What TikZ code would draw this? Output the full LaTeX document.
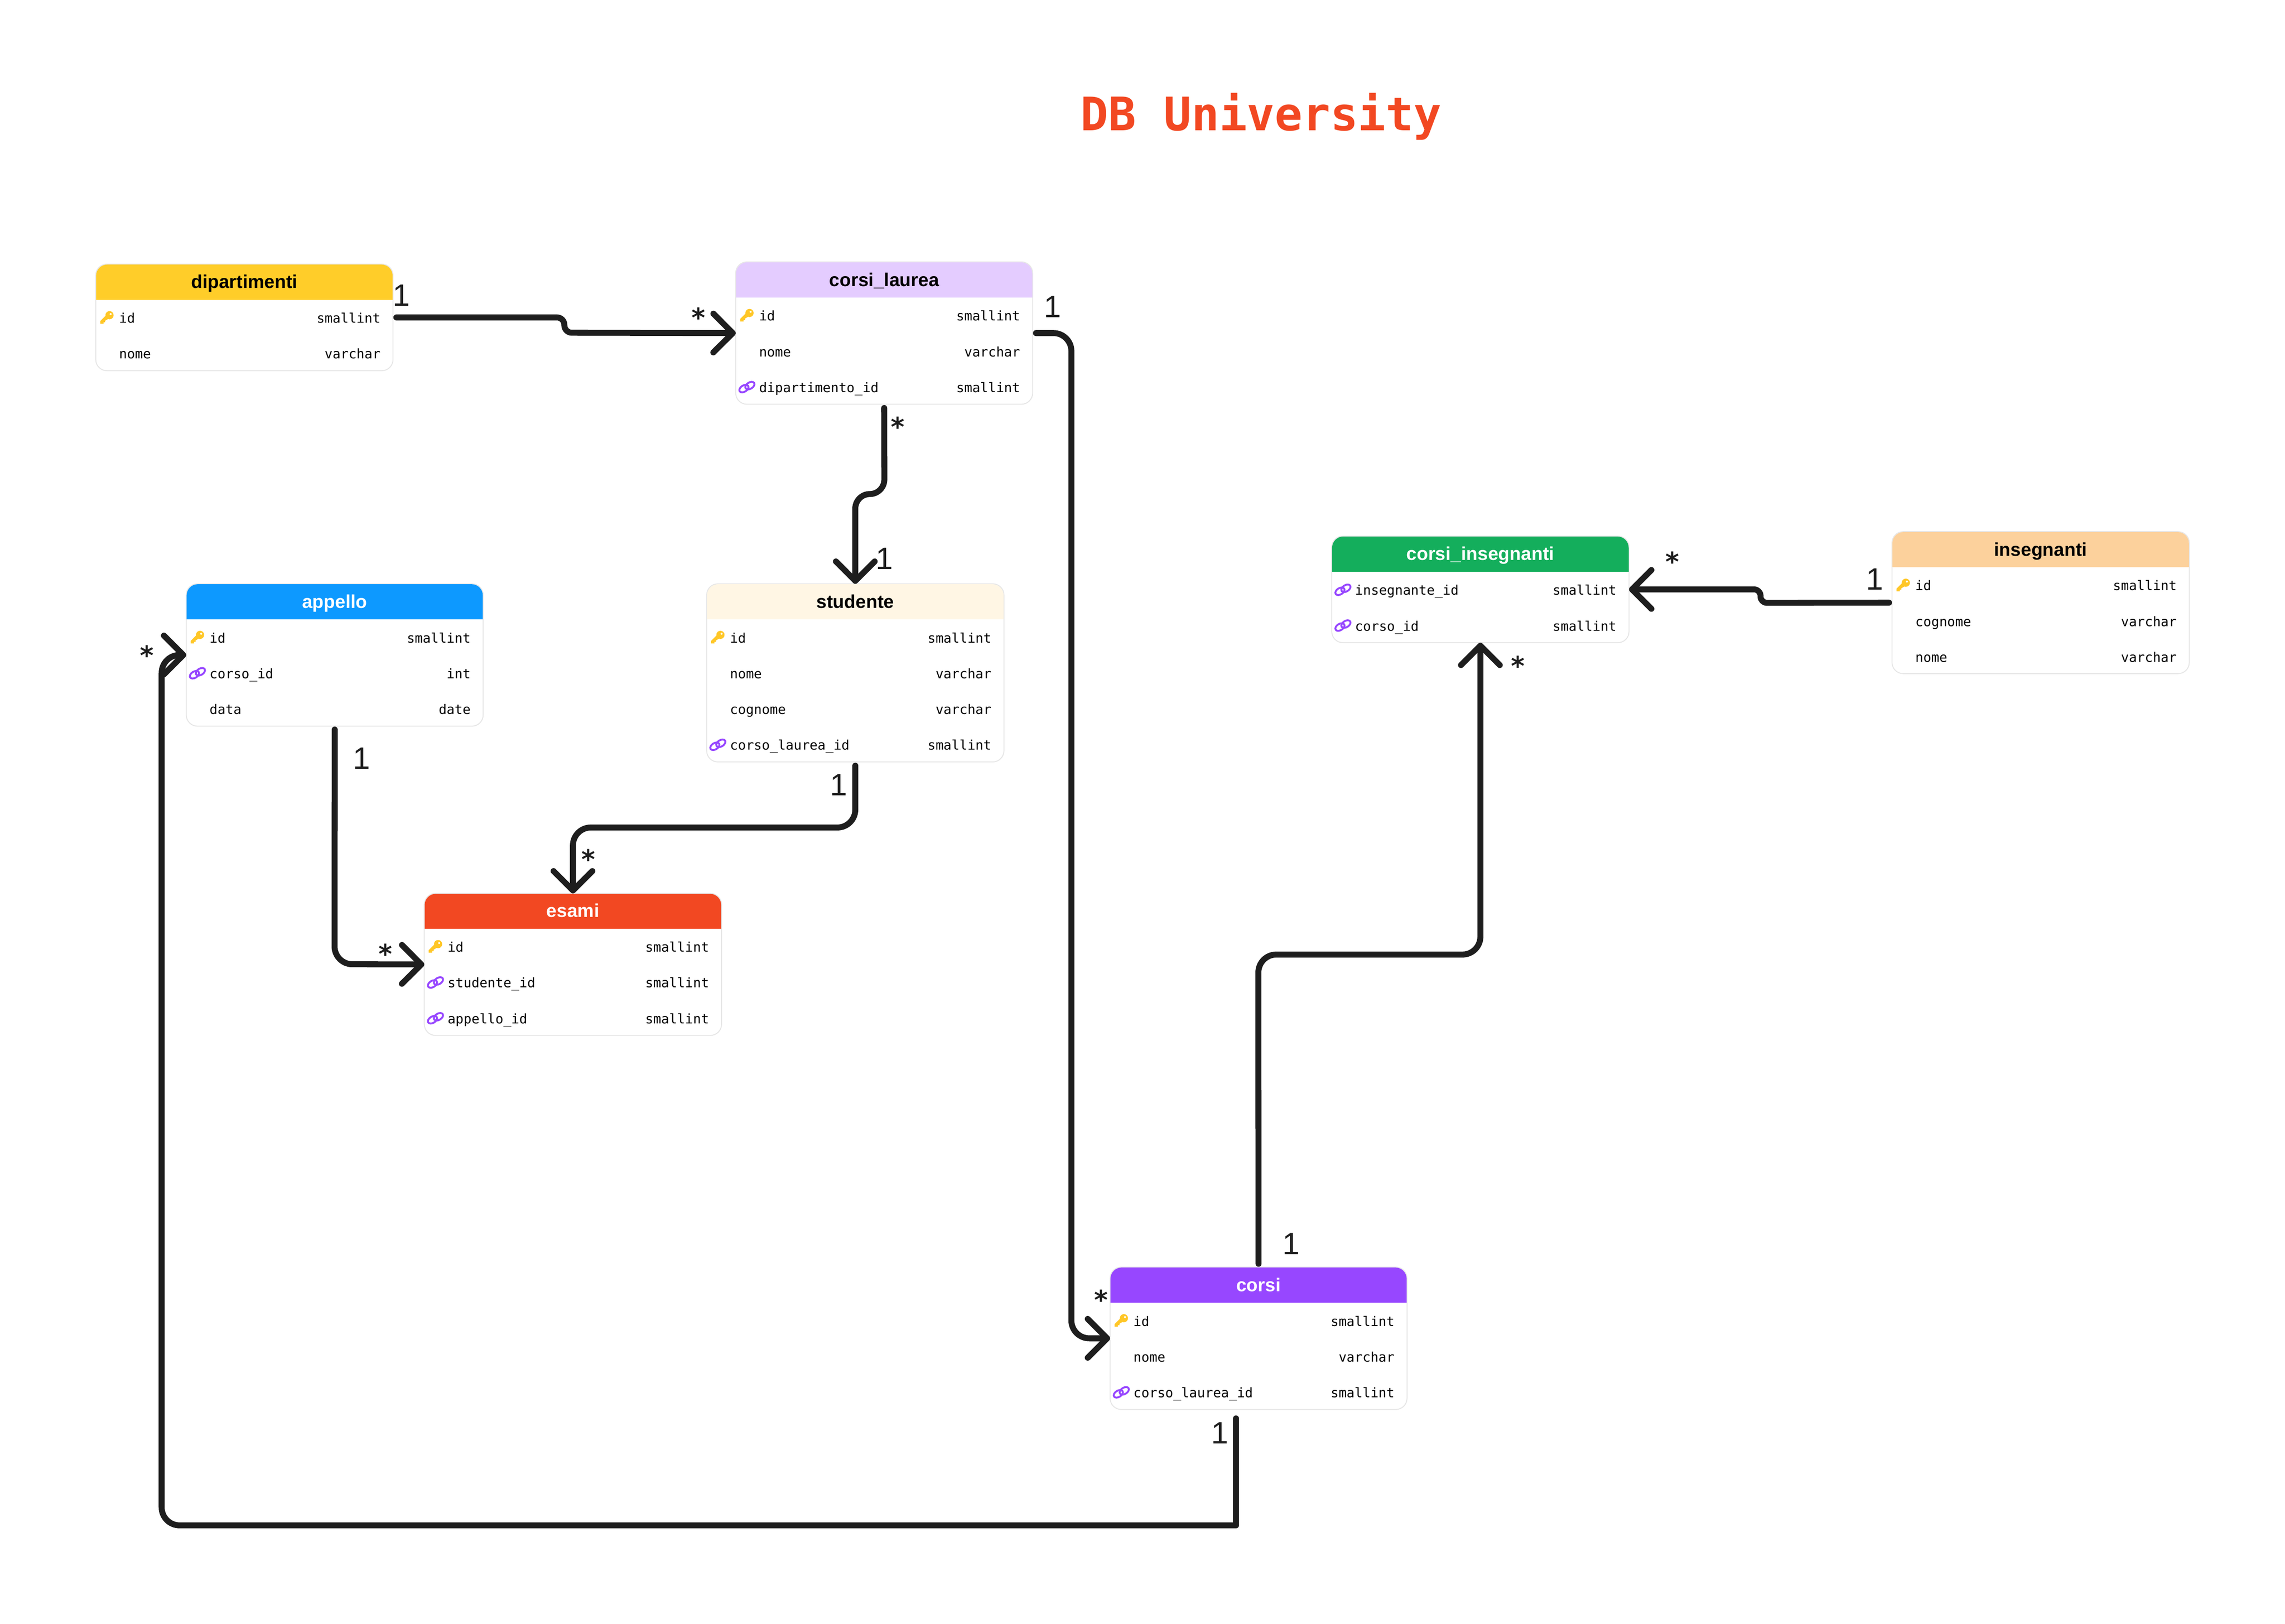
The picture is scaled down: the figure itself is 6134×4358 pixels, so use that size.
\documentclass[tikz,border=0pt]{standalone}
\usepackage{fontspec}
\usetikzlibrary{arrows.meta,calc}
\setmainfont{Liberation Sans}
\newfontfamily\rowfont{DejaVu Sans Mono}
\newfontfamily\starfont{DejaVu Sans}
\definecolor{ink}{HTML}{1E1E1E}
\definecolor{edge}{HTML}{E6E6E6}
\definecolor{keyc}{HTML}{FFC727}
\definecolor{linkc}{HTML}{9747FF}
\definecolor{titlec}{HTML}{F24822}
\definecolor{hdip}{HTML}{FFCD29}
\definecolor{hcl}{HTML}{E4CCFF}
\definecolor{hstu}{HTML}{FFF6E4}
\definecolor{happ}{HTML}{0D99FF}
\definecolor{hesa}{HTML}{F24822}
\definecolor{hcor}{HTML}{9747FF}
\definecolor{hci}{HTML}{14AE5C}
\definecolor{hins}{HTML}{FCD19C}
\tikzset{
  tablebox/.style={draw=edge,line width=.025cm,fill=white,rounded corners=.3cm,inner sep=0pt,outer sep=0pt},
  tabletitle/.style={anchor=base,inner sep=0pt,font=\bfseries\fontsize{14.2}{16}\selectfont},
  fieldname/.style={anchor=base west,inner sep=0pt,text=black,font=\rowfont\fontsize{10.1}{12}\selectfont},
  fieldtype/.style={anchor=base east,inner sep=0pt,text=black,font=\rowfont\fontsize{10.1}{12}\selectfont},
  conn/.style={draw=ink,line width=.16cm,line join=round,line cap=round},
  barb/.style={-{Straight Barb[length=.52cm,width=1.04cm,round]}},
  one/.style={inner sep=0pt,text=ink,font=\fontsize{23.6}{28}\selectfont},
  many/.style={anchor=north,inner sep=0pt,text=ink,font=\starfont\bfseries\fontsize{20}{25}\selectfont},
  doctitle/.style={anchor=base,inner sep=0pt,text=titlec,font=\rowfont\bfseries\fontsize{35.2}{40}\selectfont},
}
\newcommand\keyicon[2]{%
  \begin{scope}[shift={({#1},{#2})}]
    \fill[keyc] (7,-7) circle[radius=.11cm];
    \fill[keyc] (-2,-7) -- (5,2) -- (-5,8) -- (-5,12) -- (-9,12) -- (-9,16) -- (-18,16) -- (-18,9) -- cycle;
    \fill[white] (10,-10) circle[radius=.027cm];
  \end{scope}}
\newcommand\linkicon[2]{%
  \begin{scope}[shift={({#1},{#2})}]
    \draw[linkc,line width=.05cm,rotate around={32:(-8,4)}] (-8,4) ellipse[x radius=.135cm,y radius=.085cm];
    \draw[linkc,line width=.05cm,rotate around={32:(8,-4)}] (8,-4) ellipse[x radius=.135cm,y radius=.085cm];
  \end{scope}}
\newcommand\noicon[2]{}
% name, x0, x1, top, header bottom, bottom, fill, text colour, title
\newcommand\tablebox[9]{%
  \def\tx{#2}\def\txx{#3}\def\ty{#5}\def\tn{#1}%
  \node[tablebox,minimum width={(#3-#2)*0.01cm},minimum height={(#6-#4)*0.01cm}] (#1) at ({(#2+#3)/2},{(#4+#6)/2}) {};
  \begin{scope}
    \clip (#2,#4) rectangle (#3,#5);
    \fill[#7,rounded corners=.3cm] (#2+1,#4+1) rectangle (#3-1,#6);
  \end{scope}
  \node[tabletitle,text=#8] (#1-title) at ({(#2+#3)/2},{#5-30}) {#9};}
% row, icon, field, type
\newcommand\fieldrow[4]{%
  #2{\tx+30}{\ty+49+96*(#1-1)}%
  \node[fieldname] (\tn-name#1) at ({\tx+62},{\ty+63+96*(#1-1)}) {#3};
  \node[fieldtype] (\tn-type#1) at ({\txx-33},{\ty+63+96*(#1-1)}) {#4};}
\begin{document}
\begin{tikzpicture}[x=.01cm,y=-.01cm]
\useasboundingbox (0,0) rectangle (6134,4358);
\fill[white] (0,0) rectangle (6134,4358);

\node[doctitle] (doc) at (3385,350) {DB University};

\tablebox{dip}{257}{1055}{709}{804}{995}{hdip}{black}{dipartimenti}
\fieldrow{1}{\keyicon}{id}{smallint}
\fieldrow{2}{\noicon}{nome}{varchar}

\tablebox{cl}{1975}{2772}{703}{798}{1085}{hcl}{black}{corsi\_laurea}
\fieldrow{1}{\keyicon}{id}{smallint}
\fieldrow{2}{\noicon}{nome}{varchar}
\fieldrow{3}{\linkicon}{dipartimento\_id}{smallint}

\tablebox{stu}{1897}{2695}{1567}{1662}{2045}{hstu}{black}{studente}
\fieldrow{1}{\keyicon}{id}{smallint}
\fieldrow{2}{\noicon}{nome}{varchar}
\fieldrow{3}{\noicon}{cognome}{varchar}
\fieldrow{4}{\linkicon}{corso\_laurea\_id}{smallint}

\tablebox{app}{500}{1297}{1567}{1662}{1949}{happ}{white}{appello}
\fieldrow{1}{\keyicon}{id}{smallint}
\fieldrow{2}{\linkicon}{corso\_id}{int}
\fieldrow{3}{\noicon}{data}{date}

\tablebox{esa}{1139}{1937}{2398}{2492}{2779}{hesa}{white}{esami}
\fieldrow{1}{\keyicon}{id}{smallint}
\fieldrow{2}{\linkicon}{studente\_id}{smallint}
\fieldrow{3}{\linkicon}{appello\_id}{smallint}

\tablebox{cor}{2980}{3777}{3401}{3496}{3783}{hcor}{white}{corsi}
\fieldrow{1}{\keyicon}{id}{smallint}
\fieldrow{2}{\noicon}{nome}{varchar}
\fieldrow{3}{\linkicon}{corso\_laurea\_id}{smallint}

\tablebox{ci}{3575}{4373}{1439}{1534}{1725}{hci}{white}{corsi\_insegnanti}
\fieldrow{1}{\linkicon}{insegnante\_id}{smallint}
\fieldrow{2}{\linkicon}{corso\_id}{smallint}

\tablebox{ins}{5079}{5877}{1427}{1522}{1808}{hins}{black}{insegnanti}
\fieldrow{1}{\keyicon}{id}{smallint}
\fieldrow{2}{\noicon}{cognome}{varchar}
\fieldrow{3}{\noicon}{nome}{varchar}

% connectors
\draw[conn,barb,rounded corners=.2cm,shorten <=.09cm] (dip.east) -- (1515,852) -- (1515,893) -- (cl.west);
\draw[conn,barb,rounded corners=.39cm,shorten <=.1cm] (cl.south) -- (2374,1326) -- (2296,1326) -- (stu.north);
\draw[conn,barb,rounded corners=.48cm,shorten <=.09cm] (cl.east) -- (2876,894) -- (2876,3592) -- (cor.west);
\draw[conn,barb,shorten <=.24cm] ([xshift=-.605cm]cor.south) -- (3318,4094) [rounded corners=.48cm] -- (434,4094) -- (434,1758) -- (app.west);
\draw[conn,barb,rounded corners=.48cm,shorten <=.09cm] (app.south) -- (898,2588) -- (esa.west);
\draw[conn,barb,rounded corners=.48cm,shorten <=.1cm] (stu.south) -- (2296,2221) -- (1538,2221) -- (esa.north);
\draw[conn,barb,rounded corners=.48cm,shorten <=.09cm] (cor.north) -- (3378,2562) -- (3974,2562) -- (ci.south);
\draw[conn,barb,rounded corners=.17cm,shorten <=.08cm] (ins.west) -- (4726,1618) -- (4726,1582) -- (ci.east);

% cardinalities
\node[one] (o1) at (1078,793) {1};
\node[one] (o2) at (2826,823) {1};
\node[one] (o3) at (2374,1500) {1};
\node[one] (o4) at (971,2035) {1};
\node[one] (o5) at (2252,2107) {1};
\node[one] (o6) at (3466,3338) {1};
\node[one] (o7) at (3275,3846) {1};
\node[one] (o8) at (5033,1555) {1};
\node[many] (m1) at (1875,825) {*};
\node[many] (m2) at (2410,1118) {*};
\node[many] (m3) at (395,1732) {*};
\node[many] (m4) at (1035,2533) {*};
\node[many] (m5) at (1579,2278) {*};
\node[many] (m6) at (2956,3461) {*};
\node[many] (m7) at (4490,1480) {*};
\node[many] (m8) at (4075,1760) {*};
\end{tikzpicture}
\end{document}
